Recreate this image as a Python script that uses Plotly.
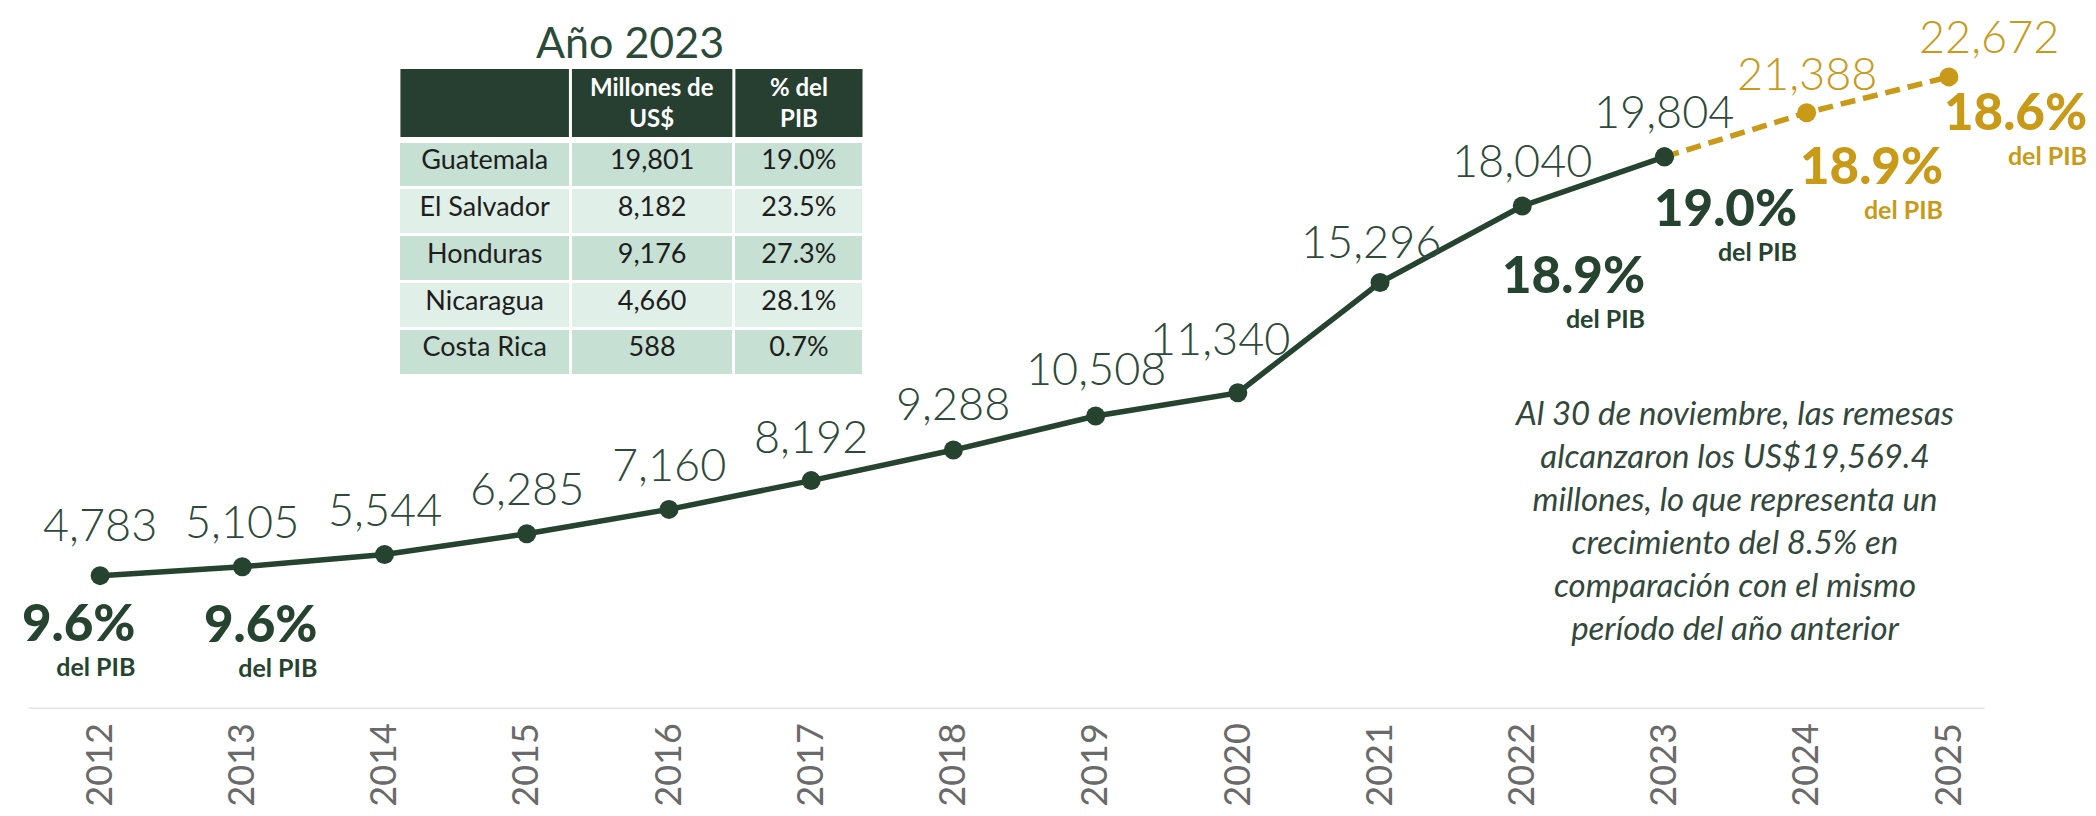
import plotly.graph_objects as go

# ---------------- data ----------------
years = [2012, 2013, 2014, 2015, 2016, 2017, 2018, 2019, 2020, 2021, 2022, 2023, 2024, 2025]
remesas = [4783, 5105, 5544, 6285, 7160, 8192, 9288, 10508, 11340, 15296, 18040, 19804, 21388, 22672]
n_real = 12  # 2012-2023 observed, 2024-2025 projected

pib_years = [2012, 2013, 2022, 2023, 2024, 2025]
pib_pct = [9.6, 9.6, 18.9, 19.0, 18.9, 18.6]

paises = ["Guatemala", "El Salvador", "Honduras", "Nicaragua", "Costa Rica"]
millones = [19801, 8182, 9176, 4660, 588]
pct_pib_2023 = [19.0, 23.5, 27.3, 28.1, 0.7]
table_headers = ["", "Millones de<br>US$", "% del<br>PIB"]

nota = ("Al 30 de noviembre, las remesas<br>alcanzaron los US$19,569.4<br>"
        "millones, lo que representa un<br>crecimiento del 8.5% en<br>"
        "comparación con el mismo<br>período del año anterior")

# ---------------- styles ----------------
GREEN = "#25432F"
GOLD = "#C99A17"
LBL_GREEN = "#2E4A3B"
TICK_GRAY = "#6A6A6A"
HEAD_GREEN = "#263F30"

# pixel offsets for value labels (label centre above point)
val_dx = [0, 0, 0, 0, 0, 0, 0, 0, -18, -9, 0, 0, 0, 40]
val_dy = [52, 46, 45, 46, 45, 45, 47, 48, 55, 42, 46, 46, 40, 41]
# pixel offsets for "% del PIB" blocks (right edge, top of block)
pib_dx = [37, 77, 125, 135, 138, 140]
pib_dy = [-13, -23, -35, -17, -19, -1]

W, H = 2096, 816
M_L, M_R, M_T, M_B = 21, 84, 4, 115
plot_w = W - M_L - M_R
plot_h = H - M_T - M_B


def py(px_from_top):
    """paper y for a pixel row measured from the top of the figure"""
    return (H - M_B - px_from_top) / plot_h


fig = go.Figure()

fig.add_trace(go.Scatter(
    x=years[:n_real], y=remesas[:n_real], mode="lines+markers",
    line=dict(color=GREEN, width=5.5), marker=dict(size=19, color=GREEN),
    showlegend=False))
fig.add_trace(go.Scatter(
    x=years[n_real - 1:], y=remesas[n_real - 1:], mode="lines",
    line=dict(color=GOLD, width=5.5, dash="15px,8px"), showlegend=False, hoverinfo="skip"))
fig.add_trace(go.Scatter(
    x=years[n_real:], y=remesas[n_real:], mode="markers",
    marker=dict(size=19, color=GOLD), showlegend=False))
fig.add_trace(go.Scatter(
    x=[years[n_real - 1]], y=[remesas[n_real - 1]], mode="markers",
    marker=dict(size=19, color=GREEN), showlegend=False, hoverinfo="skip"))

# baseline
fig.add_shape(type="line", xref="x", yref="y", x0=years[0] - 0.5, x1=years[-1] + 0.25,
              y0=0, y1=0, line=dict(color="#E3E3E3", width=3), layer="below")

# value labels
for i, (yr, v) in enumerate(zip(years, remesas)):
    col = LBL_GREEN if i < n_real else GOLD
    fig.add_annotation(x=yr, y=v, text=f"{v:,}", showarrow=False,
                       xanchor="center", yanchor="middle",
                       xshift=val_dx[i], yshift=val_dy[i],
                       font=dict(family="Lato", size=45, color=col, weight=300))

# % del PIB labels
for i, (yr, p) in enumerate(zip(pib_years, pib_pct)):
    v = remesas[years.index(yr)]
    col = GOLD if yr > years[n_real - 1] else GREEN
    txt = (f"<span style='font-size:51px;font-weight:900'>{p:.1f}%</span><br>"
           f"<span style='font-size:25px'><b>del PIB</b></span>")
    fig.add_annotation(x=yr, y=v, text=txt, showarrow=False,
                       xanchor="right", yanchor="top", align="right",
                       xshift=pib_dx[i], yshift=pib_dy[i],
                       font=dict(family="Lato", size=27, color=col, weight=700))

# note
fig.add_annotation(xref="paper", yref="paper", x=0.8565, y=0.272, text=nota,
                   showarrow=False, align="center", xanchor="center", yanchor="middle",
                   font=dict(family="Lato", size=33, color="#33483C", style="italic"))

# table title
fig.add_annotation(xref="paper", yref="paper", x=0.3019, y=0.957, text="Año 2023",
                   showarrow=False, xanchor="center", yanchor="middle",
                   font=dict(family="Lato", size=43, color="#2B4A3A"))

# ---------------- table ----------------
ROW_A = "#C6E0D3"
ROW_B = "#E0EFE7"
row_fill = [ROW_A if i % 2 == 0 else ROW_B for i in range(len(paises))]

tbl_x = [0.1858, 0.4194]
col_w = [170, 162, 129]
head_top_px, head_bot_px, rows_top_px = 61, 129, 143
gap_px = 8
TABLE_OFFSET = 10  # px that plotly places the table below its domain top

tot_w = sum(col_w)
span = tbl_x[1] - tbl_x[0]
inset = 1.5 / plot_w
for j, h in enumerate(table_headers):
    x0 = tbl_x[0] + span * sum(col_w[:j]) / tot_w
    x1 = tbl_x[0] + span * sum(col_w[:j + 1]) / tot_w
    fig.add_shape(type="rect", xref="paper", yref="paper",
                  x0=x0 + inset, x1=x1 - inset, y0=py(head_bot_px), y1=py(head_top_px),
                  fillcolor=HEAD_GREEN, line=dict(width=0), layer="above")
    if h:
        fig.add_annotation(xref="paper", yref="paper", x=(x0 + x1) / 2,
                           y=py((head_top_px + head_bot_px) / 2 - 1),
                           text=f"<b>{h}</b>", showarrow=False, align="center",
                           xanchor="center", yanchor="middle",
                           font=dict(family="Lato", size=24, color="white"))

fig.add_trace(go.Table(
    domain=dict(x=tbl_x, y=[0.30, py(rows_top_px - gap_px - TABLE_OFFSET)]),
    columnwidth=col_w,
    header=dict(values=["", "", ""], fill_color="white",
                line=dict(color="white", width=0),
                font=dict(family="Lato", size=6, color="white"),
                height=gap_px),
    cells=dict(values=[paises, [f"{m:,}" for m in millones], [f"{p:.1f}%" for p in pct_pib_2023]],
               fill_color=[row_fill] * 3, line=dict(color="white", width=3),
               font=dict(family="Lato", size=27, color="#1E1E1E"),
               align="center", height=46.8)
))

fig.update_layout(
    width=W, height=H,
    margin=dict(l=M_L, r=M_R, t=M_T, b=M_B, autoexpand=False),
    paper_bgcolor="white", plot_bgcolor="white",
    showlegend=False,
    xaxis=dict(range=[2011.5, 2025.5], tickmode="array", tickvals=years,
               ticktext=[str(y) for y in years], tickangle=-90,
               tickfont=dict(family="Lato", size=36, color=TICK_GRAY),
               showgrid=False, zeroline=False, showline=False, automargin=False,
               ticks="", ticklabelstandoff=6),
    yaxis=dict(range=[0, 25000], visible=False, showgrid=False, zeroline=False,
               automargin=False),
)

fig.write_html("out.html")
